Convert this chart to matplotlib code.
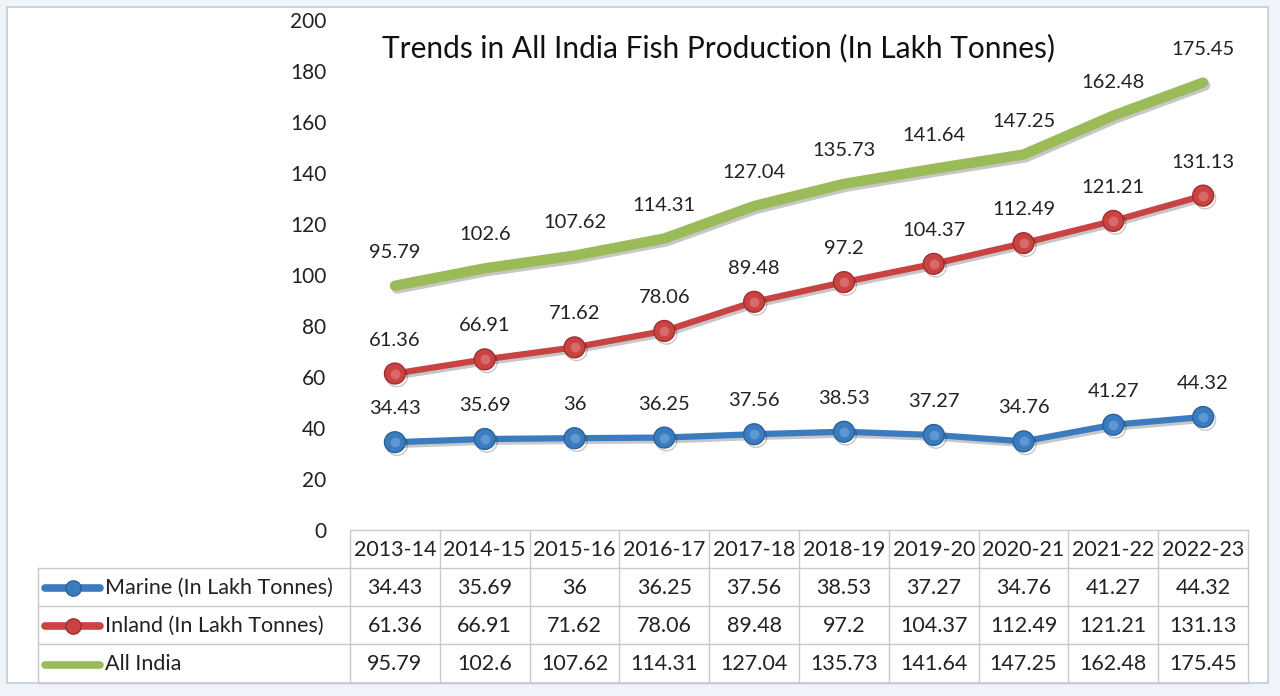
import matplotlib
matplotlib.use('Agg')
import matplotlib.pyplot as plt
import matplotlib.patheffects as pe
from matplotlib.patches import Rectangle

years = ['2013-14', '2014-15', '2015-16', '2016-17', '2017-18',
         '2018-19', '2019-20', '2020-21', '2021-22', '2022-23']
marine = [34.43, 35.69, 36, 36.25, 37.56, 38.53, 37.27, 34.76, 41.27, 44.32]
inland = [61.36, 66.91, 71.62, 78.06, 89.48, 97.2, 104.37, 112.49, 121.21, 131.13]
all_india = [95.79, 102.6, 107.62, 114.31, 127.04, 135.73, 141.64, 147.25, 162.48, 175.45]
series_names = ['Marine (In Lakh Tonnes)', 'Inland (In Lakh Tonnes)', 'All India']
y_ticks = [0, 20, 40, 60, 80, 100, 120, 140, 160, 180, 200]

FONT = ['Lato', 'DejaVu Sans']
plt.rcParams['font.family'] = FONT

blue = '#3b7cc0'
red = '#c94343'
green = '#9bbb59'
txt = '#222222'
grid_c = '#c9c9c9'

W, H = 1280, 696
fig = plt.figure(figsize=(W / 100, H / 100), dpi=100)
fig.patch.set_facecolor('#eef4fa')

# pixel overlay for the white box and the data table
bg = fig.add_axes([0, 0, 1, 1])
bg.set_xlim(0, W)
bg.set_ylim(H, 0)
bg.axis('off')
bg.add_patch(Rectangle((7, 7), 1261, 676, facecolor='white', edgecolor='#c3cad2', linewidth=1.2))

# main plot area
left_px, right_px, top_px, bot_px = 350, 1248, 20, 530
ax = fig.add_axes([left_px / W, 1 - bot_px / H, (right_px - left_px) / W, (bot_px - top_px) / H])
ax.set_facecolor('none')
x = list(range(len(years)))
ax.set_xlim(-0.5, len(years) - 0.5)
ax.set_ylim(0, 200)
ax.set_yticks(y_ticks)
ax.set_yticklabels([str(v) for v in y_ticks])
ax.tick_params(axis='y', length=0, pad=17, labelsize=15, labelcolor=txt)
ax.tick_params(axis='x', length=0, labelbottom=False)
for s in ax.spines.values():
    s.set_visible(False)

shadow = [pe.SimpleLineShadow(offset=(1.5, -2), alpha=0.22), pe.Normal()]
ax.plot(x, all_india, color=green, linewidth=7.5, solid_capstyle='round',
        path_effects=shadow, zorder=3)
ax.plot(x, inland, color=red, linewidth=4.5, marker='o', markersize=15,
        markerfacecolor=red, markeredgecolor='#a02d2d', markeredgewidth=1,
        path_effects=shadow, zorder=4)
ax.plot(x, marine, color=blue, linewidth=4.5, marker='o', markersize=15,
        markerfacecolor=blue, markeredgecolor='#2a6299', markeredgewidth=1,
        path_effects=shadow, zorder=4)
# soft highlight on the balls
ax.plot(x, inland, linestyle='none', marker='o', markersize=6, color='#d86a6a', zorder=5)
ax.plot(x, marine, linestyle='none', marker='o', markersize=6, color='#5e98d2', zorder=5)

for series in (marine, inland, all_india):
    for xi, v in zip(x, series):
        ax.annotate(f'{v:g}', (xi, v), xytext=(0, 18), textcoords='offset points',
                    ha='center', va='bottom', fontsize=14.5, color=txt, zorder=6)

fig.text(718 / W, 1 - 48 / H, 'Trends in All India Fish Production (In Lakh Tonnes)',
         ha='center', va='center', fontsize=21.5, color='#111111')

# data table
col_edges = [left_px + i * (right_px - left_px) / len(years) for i in range(len(years) + 1)]
row_edges = [530, 568, 606, 644, 683]
lab_left = 38
lw = 1.0
bg.plot([col_edges[0], col_edges[-1]], [row_edges[0]] * 2, color=grid_c, lw=lw)
for ry in row_edges[1:]:
    bg.plot([lab_left, col_edges[-1]], [ry, ry], color=grid_c, lw=lw)
bg.plot([lab_left, lab_left], [row_edges[1], row_edges[-1]], color=grid_c, lw=lw)
for cx in col_edges:
    bg.plot([cx, cx], [row_edges[0], row_edges[-1]], color=grid_c, lw=lw)

for i, yr in enumerate(years):
    cx = (col_edges[i] + col_edges[i + 1]) / 2
    bg.text(cx, (row_edges[0] + row_edges[1]) / 2 + 1, yr, ha='center', va='center',
            fontsize=15.5, color=txt)

rows = [marine, inland, all_india]
styles = [(blue, '#2a6299', True), (red, '#a02d2d', True), (green, None, False)]
for r, (vals, name, (c, ec, has_marker)) in enumerate(zip(rows, series_names, styles)):
    cy = (row_edges[r + 1] + row_edges[r + 2]) / 2 + 1
    bg.plot([45, 100], [cy, cy], color=c, linewidth=5.5, solid_capstyle='round')
    if has_marker:
        bg.plot([73], [cy], marker='o', markersize=11, color=c, markeredgecolor=ec)
    bg.text(105, cy, name, ha='left', va='center', fontsize=15.5, color=txt)
    for i, v in enumerate(vals):
        cx = (col_edges[i] + col_edges[i + 1]) / 2
        bg.text(cx, cy, f'{v:g}', ha='center', va='center', fontsize=15.5, color=txt)

plt.savefig('out.png', dpi=100, facecolor=fig.get_facecolor())
